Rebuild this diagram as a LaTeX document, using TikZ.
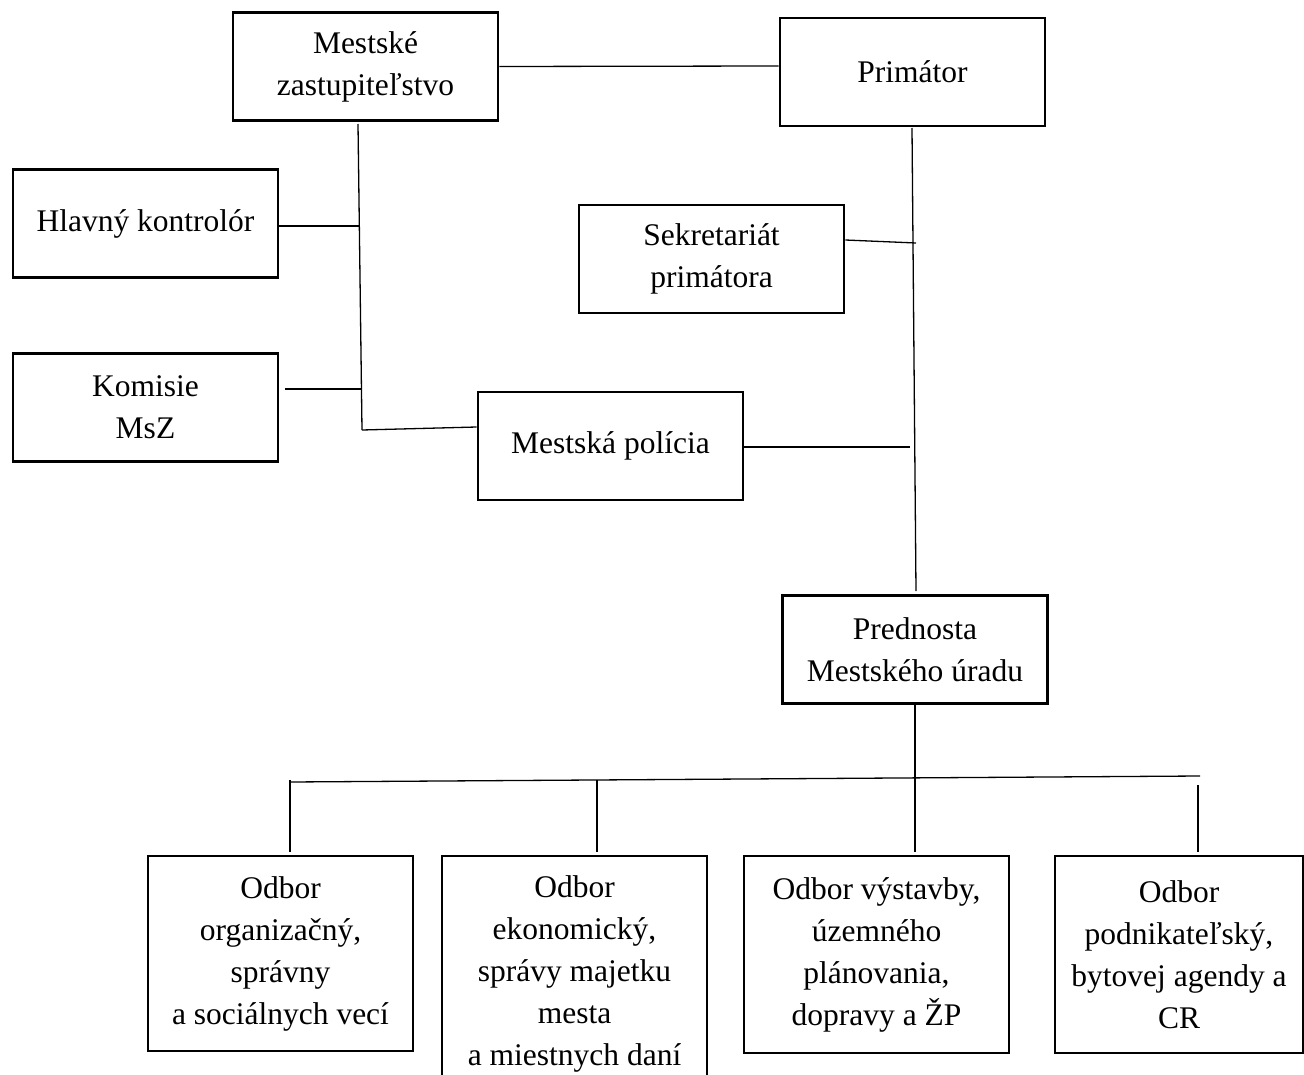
\documentclass[tikz,border=0pt]{standalone}
\usepackage{fontspec}
\setmainfont{Liberation Serif}
\begin{document}
\begin{tikzpicture}[x=1pt,y=-1pt,
  box/.style={draw, line width=2.6pt, minimum width=265pt, minimum height=108pt, align=center, inner sep=0pt, font=\fontsize{31.5}{42}\selectfont},
  conn/.style={line width=1.3pt}]
\useasboundingbox (0,0) rectangle (1304,1075);
\node[box] (mz) at (365.5,66.5) {Mestské\\zastupiteľstvo};
\node[box] (prim) at (912.5,72) {Primátor};
\node[box] (hk) at (145.5,223.5) {Hlavný kontrolór};
\node[box] (sek) at (711.5,259) {Sekretariát\\primátora};
\node[box] (kom) at (145.5,407.5) {Komisie\\MsZ};
\node[box] (pol) at (610.5,446) {Mestská polícia};
\node[box] (pred) at (915,649.5) {Prednosta\\Mestského úradu};
\node[box, minimum height=195pt] (o1) at (280.5,953.5) {Odbor\\organizačný,\\správny\\a sociálnych vecí};
\node[box, minimum height=236pt] (o2) at (574.5,974) {Odbor\\ekonomický,\\správy majetku\\mesta\\a miestnych daní};
\node[box, minimum height=197pt] (o3) at (876.5,954.5) {Odbor výstavby,\\územného\\plánovania,\\dopravy a ŽP};
\node[box, minimum width=248pt, minimum height=197pt] (o4) at (1179,954.5) {Odbor\\podnikateľský,\\bytovej agendy a\\CR};
% coordinates
\coordinate (mzb) at (358,124);
\coordinate (jhk) at (360,226);
\coordinate (jkom) at (362,389);
\coordinate (kome) at (285,389);
\coordinate (jpol) at (362,430);
\coordinate (pb) at (912,128);
\coordinate (jsek) at (916,243);
\coordinate (jpolr) at (910,447);
\coordinate (pt) at (916,591);
\coordinate (bl) at (290,782);
\coordinate (bm) at (915,779);
\coordinate (br) at (1200,776);
\coordinate (d1) at (290,780);
\coordinate (d2) at (597,780);
\coordinate (d3) at (915,779);
\coordinate (d4) at (1198,785);
% connectors
\draw[conn] (mz.east) -- (prim.west |- 0,66);
\draw[conn] (mzb) -- (jpol);
\draw[conn] (hk.east |- jhk) -- (jhk);
\draw[conn] (kome) -- (jkom);
\draw[conn] (jpol) -- (pol.west |- 0,427);
\draw[conn] (pb) -- (pt);
\draw[conn] (sek.east |- 0,240) -- (jsek);
\draw[conn] (pol.east |- jpolr) -- (jpolr);
\draw[conn] (pred.south) -- (bm);
\draw[conn] (bl) -- (br);
\draw[conn] (d1) -- (290,852);
\draw[conn] (d2) -- (597,852);
\draw[conn] (d3) -- (915,852);
\draw[conn] (d4) -- (1198,852);
\end{tikzpicture}
\end{document}
